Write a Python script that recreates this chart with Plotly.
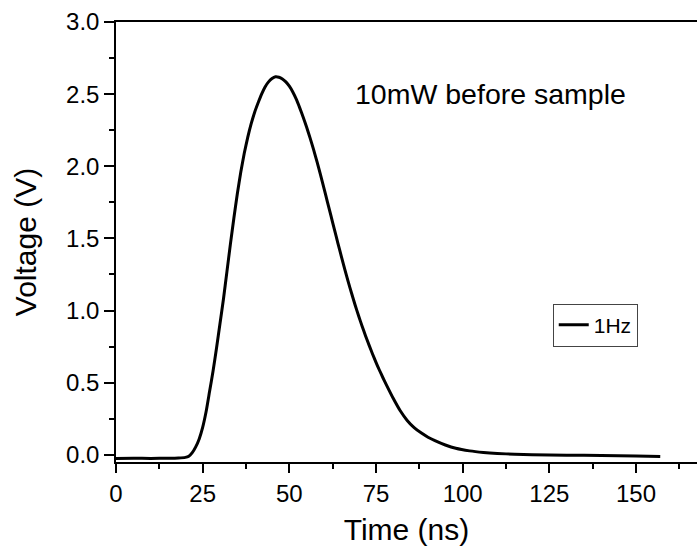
import plotly.graph_objects as go

# pulse trace (time in ns, voltage in V)
time_ns = [0, 5, 10, 15, 18, 20, 21, 22, 23, 24, 25, 26, 27, 28, 29, 30,
           31, 32, 33, 34, 35, 36, 37, 38, 39, 40, 41, 42, 43, 44, 45, 46,
           47, 48, 49, 50, 51, 52, 53, 54, 55, 56, 57, 58, 59, 60, 61, 62,
           63, 64, 65, 66, 67, 68, 69, 70, 71, 72, 73, 74, 75, 76, 77, 78,
           80, 82, 84, 86, 88, 90, 92, 95, 98, 102, 106, 110, 115, 120, 130,
           140, 150, 157]
voltage = [-0.025, -0.024, -0.025, -0.024, -0.022, -0.018, -0.01, 0.015, 0.055,
           0.11, 0.19, 0.30, 0.44, 0.58, 0.74, 0.91,
           1.08, 1.27, 1.46, 1.64, 1.81, 1.96, 2.09, 2.20, 2.295, 2.375, 2.44,
           2.50, 2.55, 2.585, 2.608, 2.62,
           2.617, 2.605, 2.585, 2.555, 2.515, 2.465, 2.405, 2.34, 2.27, 2.195, 2.115,
           2.03, 1.94, 1.847, 1.752, 1.657,
           1.562, 1.468, 1.376, 1.286, 1.199, 1.116, 1.037, 0.962, 0.891, 0.824, 0.76,
           0.699, 0.641, 0.586, 0.534, 0.485,
           0.39, 0.305, 0.238, 0.188, 0.152, 0.122, 0.098, 0.068, 0.045, 0.027,
           0.016, 0.009, 0.004, 0.001, -0.003,
           -0.005, -0.008, -0.012]

x_ticks = [0, 25, 50, 75, 100, 125, 150]
y_ticks = [0.0, 0.5, 1.0, 1.5, 2.0, 2.5, 3.0]
y_labels = ["0.0", "0.5", "1.0", "1.5", "2.0", "2.5", "3.0"]

FONT = "Arial, Liberation Sans, sans-serif"

fig = go.Figure()
fig.add_trace(go.Scatter(
    x=time_ns, y=voltage, mode="lines", name="1Hz",
    line=dict(color="black", width=3, shape="spline", smoothing=0.5),
))

fig.add_annotation(
    x=68.5, y=2.50, xref="x", yref="y", text="10mW before sample",
    showarrow=False, xanchor="left", yanchor="middle",
    font=dict(family=FONT, size=28.5, color="black"),
)

axis_common = dict(
    showline=True, linecolor="black", linewidth=1.5,
    ticks="outside", tickcolor="black", tickwidth=1.5,
    showgrid=False, zeroline=False, automargin=False,
    tickfont=dict(family=FONT, size=24, color="black"),
)

fig.update_xaxes(
    range=[0, 167.6], tickvals=x_ticks, ticklen=9, mirror=True,
    minor=dict(ticks="outside", ticklen=5, tickwidth=1.5, tickcolor="black", dtick=12.5, tick0=0),
    title=dict(text="Time (ns)", font=dict(family=FONT, size=30, color="black"), standoff=13),
    **axis_common,
)
fig.update_yaxes(
    range=[-0.05, 3.0], tickvals=y_ticks, ticktext=y_labels, ticklen=10,
    minor=dict(ticks="outside", ticklen=5, tickwidth=1.5, tickcolor="black", dtick=0.25, tick0=0),
    title=dict(text="Voltage (V)", font=dict(family=FONT, size=30, color="black"), standoff=21),
    **axis_common,
)

fig.update_layout(
    width=697, height=552,
    margin=dict(l=116, r=0, t=22, b=90),
    paper_bgcolor="white", plot_bgcolor="white",
    showlegend=True,
    legend=dict(
        x=0.898, y=0.36, xanchor="right", yanchor="top",
        bordercolor="#444", borderwidth=1, bgcolor="white",
        font=dict(family=FONT, size=21, color="black"),
        itemwidth=30, tracegroupgap=0,
    ),
)

# drop the page's default body margin so the figure sits at the window origin
fig.write_html("out.html", config={"displayModeBar": False},
               post_script="document.body.style.margin='0';")
